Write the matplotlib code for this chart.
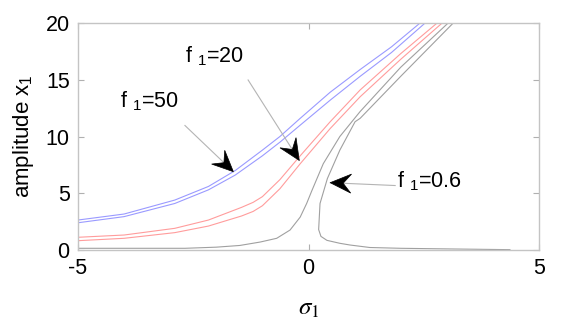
import numpy as np
import matplotlib
matplotlib.use('Agg')
import matplotlib.pyplot as plt
from matplotlib.patches import Polygon
from matplotlib.transforms import IdentityTransform

plt.rcParams['font.family'] = 'Liberation Sans'
plt.rcParams['mathtext.fontset'] = 'custom'
plt.rcParams['mathtext.rm'] = 'Liberation Sans'
plt.rcParams['mathtext.it'] = 'Liberation Sans:italic'
plt.rcParams['axes.unicode_minus'] = False

# f1 = 50 (blue pair)
blue_up_s = [-5, -4, -2.9, -2.17, -1.59, -1.0, -0.62, -0.18, 0.47, 1.12, 1.8, 2.42]
blue_up_a = [2.64, 3.17, 4.4, 5.6, 7.0, 8.8, 10.0, 11.6, 13.9, 15.9, 17.9, 20]
blue_lo_s = [-5, -4, -2.9, -2.17, -1.59, -1.0, -0.62, -0.18, 0.47, 1.12, 1.8, 2.53]
blue_lo_a = [2.4, 2.94, 4.1, 5.3, 6.6, 8.3, 9.5, 11.0, 13.2, 15.3, 17.4, 20]

# f1 = 20 (red pair)
red_up_s = [-5, -4, -2.9, -2.17, -1.45, -1.2, -1.0, -0.62, -0.18, 0.47, 1.12, 2.0, 2.79]
red_up_a = [1.12, 1.32, 1.91, 2.64, 3.76, 4.2, 4.7, 6.2, 8.3, 11.3, 14.1, 17.3, 20]
red_lo_s = [-5, -4, -2.9, -2.17, -1.45, -1.2, -1.0, -0.62, -0.18, 0.47, 1.12, 2.0, 2.9]
red_lo_a = [0.82, 1.03, 1.53, 2.11, 3.0, 3.4, 3.9, 5.4, 7.6, 10.7, 13.5, 16.8, 20]

# f1 = 0.6 (gray, two branches)
gray_out_s = [-5, -4, -2.68, -2.0, -1.49, -1.05, -0.69, -0.4, -0.18, -0.04, 0.07, 0.32, 0.68, 0.97, 1.12, 2.0, 3.03]
gray_out_a = [0.15, 0.15, 0.15, 0.25, 0.4, 0.7, 1.03, 1.76, 2.9, 4.1, 5.2, 7.6, 10.0, 11.45, 12.2, 16.1, 20]
gray_in_s = [3.14, 2.0, 1.12, 1.01, 0.68, 0.41, 0.25, 0.22, 0.27, 0.4, 0.68, 0.9, 1.33, 2.0, 3.14, 4.37]
gray_in_a = [20, 15.3, 11.6, 11.3, 8.8, 6.3, 4.1, 1.8, 1.2, 0.85, 0.59, 0.44, 0.22, 0.15, 0.09, 0.03]

# annotations: label, text pos, arrow start, arrow tip
labels = ['f $_1$=50', 'f $_1$=20', 'f $_1$=0.6']
text_pos = [(-4.09, 12.6), (-2.68, 16.56), (1.92, 5.55)]
arrow_start = [(-2.68, 10.97), (-1.31, 14.98), (1.88, 5.68)]
arrow_tip = [(-1.63, 6.90), (-0.20, 7.89), (0.47, 5.93)]

fig = plt.figure(figsize=(5.61, 3.33), dpi=100)
ax = fig.add_axes([78/561, 83/333, 461/561, 227/333])

lw = 0.8
ax.plot(blue_up_s, blue_up_a, color='#9a9aff', lw=lw)
ax.plot(blue_lo_s, blue_lo_a, color='#9a9aff', lw=lw)
ax.plot(red_up_s, red_up_a, color='#ff9c9c', lw=lw)
ax.plot(red_lo_s, red_lo_a, color='#ff9c9c', lw=lw)
ax.plot(gray_out_s, gray_out_a, color='#a0a0a0', lw=lw)
ax.plot(gray_in_s, gray_in_a, color='#a0a0a0', lw=lw)

ax.set_xlim(-5, 5)
ax.set_ylim(0, 20)
ax.set_xticks([-5, 0, 5])
ax.set_yticks([0, 5, 10, 15, 20])
ax.tick_params(direction='in', top=True, right=True, length=4, width=0.8,
               color='#b0b0b0', labelsize=15.5, pad=6)
for sp in ax.spines.values():
    sp.set_color('#c4c4c4')
    sp.set_linewidth(1.0)

ax.set_ylabel('amplitude x$_1$', fontsize=16, va='center')
ax.yaxis.set_label_coords(-0.118, 0.5)
ax.set_xlabel(r'$\sigma_1$', fontsize=18, math_fontfamily='stix', va='center')
ax.xaxis.set_label_coords(0.5, -0.255)

fig.canvas.draw()
for lab, tp, st, tip in zip(labels, text_pos, arrow_start, arrow_tip):
    ax.text(tp[0], tp[1], lab, fontsize=15.5, ha='left', va='baseline')
    ax.plot([st[0], tip[0]], [st[1], tip[1]], color='#b4b4b4', lw=0.8, clip_on=False)
    p0 = ax.transData.transform(st)
    p1 = ax.transData.transform(tip)
    d = (p1 - p0) / np.hypot(*(p1 - p0))
    n = np.array([-d[1], d[0]])
    L, W = 21, 9.5
    head = [p1, p1 - L * d + W * n, p1 - 0.62 * L * d, p1 - L * d - W * n]
    fig.add_artist(Polygon(head, closed=True, facecolor='black', edgecolor='black',
                           lw=0.5, transform=IdentityTransform()))

fig.savefig('out.png', dpi=100)
